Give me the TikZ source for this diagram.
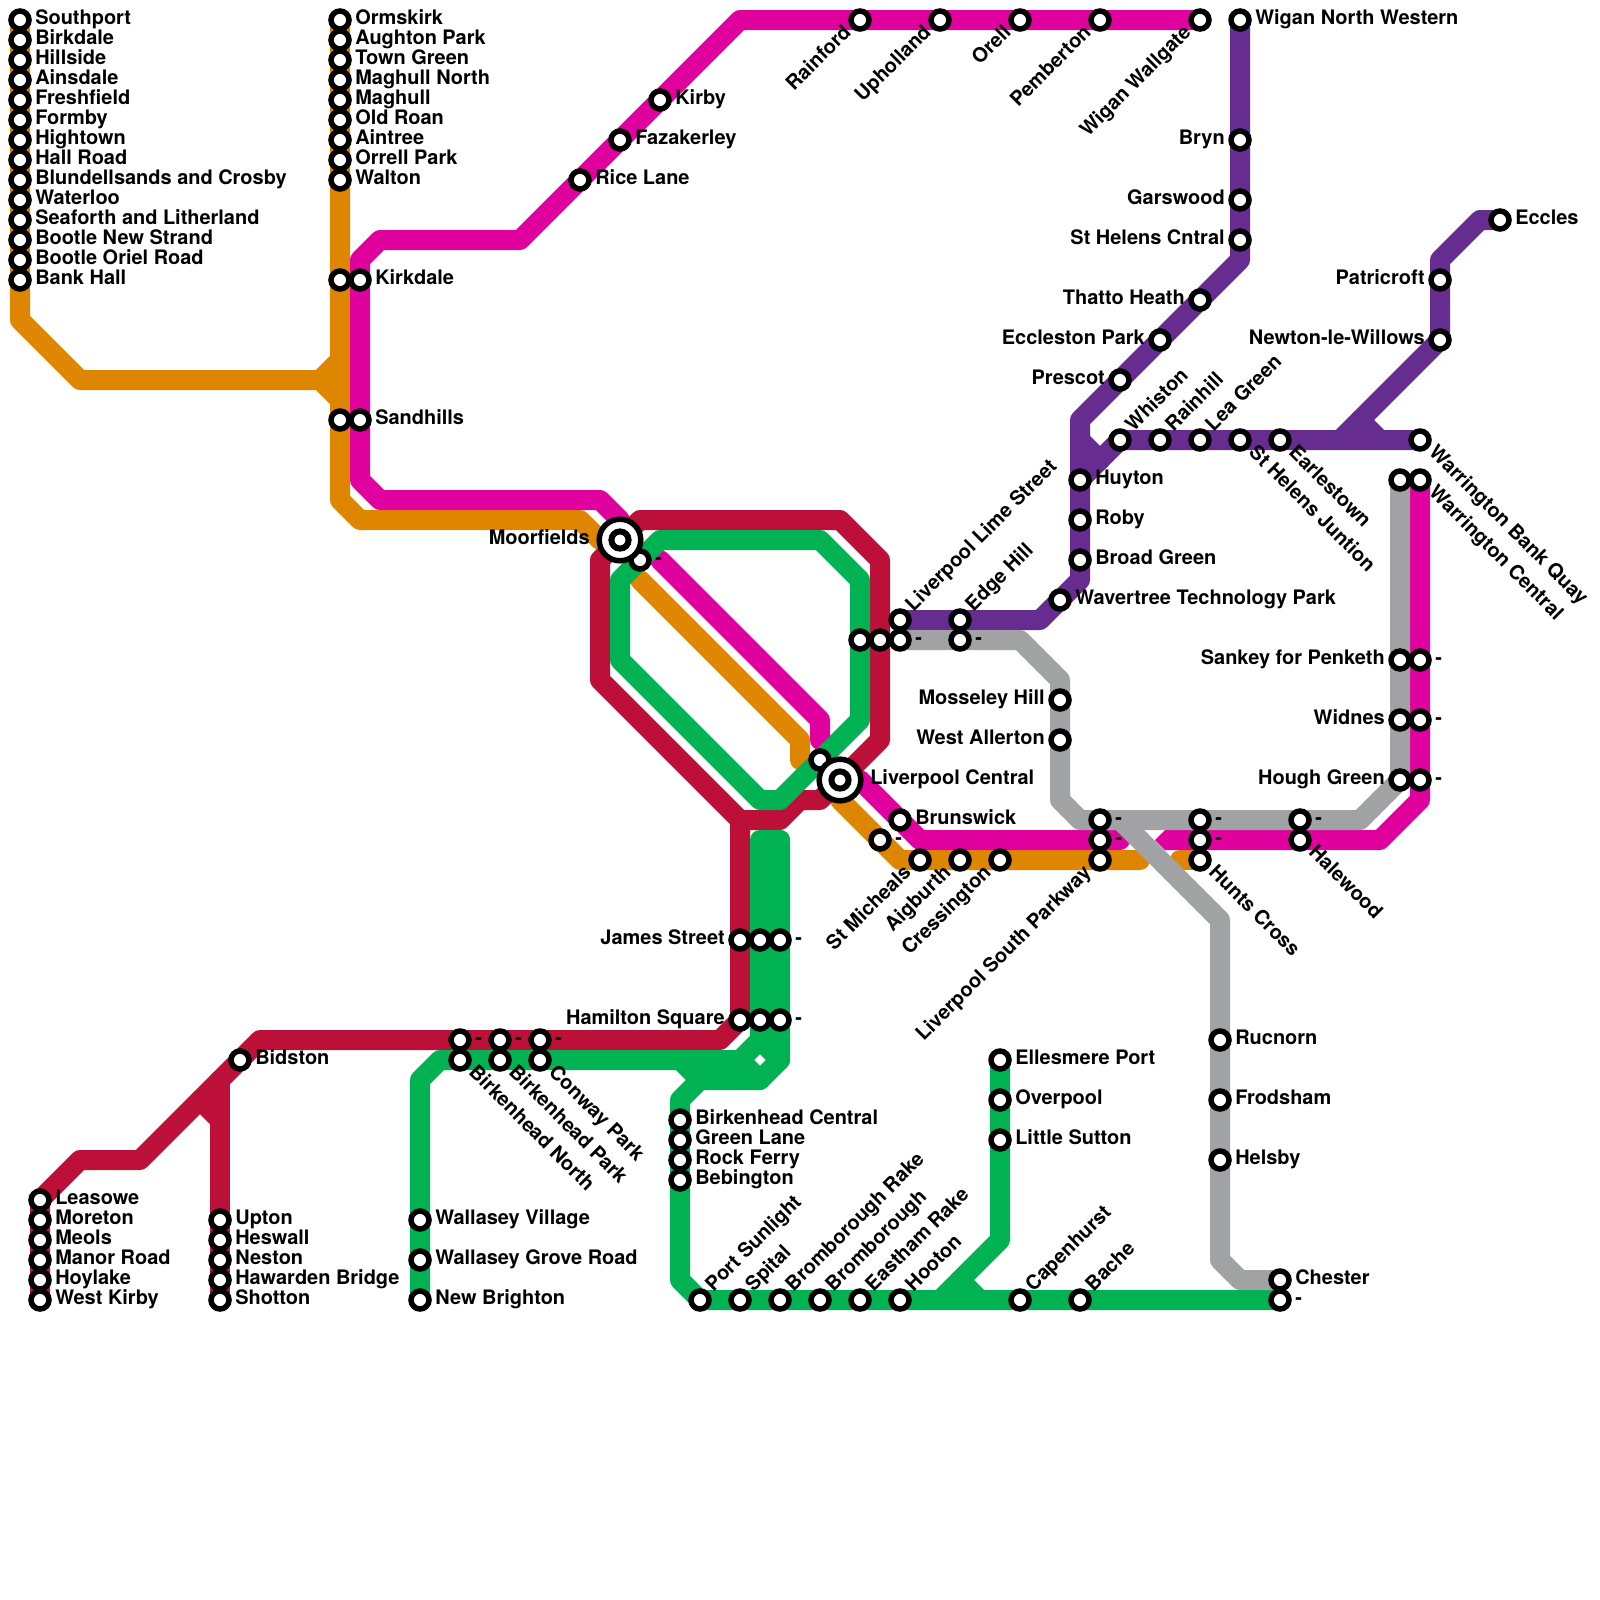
\documentclass[tikz,border=0pt]{standalone}
\usepackage{fontspec}
\setmainfont{TeX Gyre Heros}
\usetikzlibrary{backgrounds}

\definecolor{railorange}{HTML}{DF8600}
\definecolor{railpink}{HTML}{E0009D}
\definecolor{railred}{HTML}{BD1038}
\definecolor{railgreen}{HTML}{00B251}
\definecolor{railpurple}{HTML}{662C90}
\definecolor{railgrey}{HTML}{A1A2A3}

\tikzset{
  track/.style={line width=5mm,line cap=round,line join=round},
  stop/.style={circle,draw=black,fill=white,line width=1.375mm,minimum size=4.5mm,inner sep=0pt},
  hubring/.style={stop,minimum size=10.4mm},
  hubcore/.style={stop,line width=1.5mm,minimum size=4.3mm},
  lab/.style={inner sep=0pt,font=\fontsize{14.2}{16}\selectfont\bfseries},
  E/.style={anchor=base west,xshift=3.75mm,yshift=-1.2mm},
  W/.style={anchor=base east,xshift=-3.75mm,yshift=-1.2mm},
  NE/.style={rotate=45,anchor=base west,xshift=3.75mm,yshift=-1mm},
  SW/.style={rotate=45,anchor=base east,xshift=-3.75mm,yshift=-1mm},
  SE/.style={rotate=-45,anchor=base west,xshift=3.75mm,yshift=-1mm},
  HE/.style={anchor=base west,xshift=7.5mm,yshift=-1.2mm},
  HW/.style={anchor=base east,xshift=-7.5mm,yshift=-1.2mm}
}
\newcommand{\stn}[4][E]{%
  \node[stop] (#2) at (#3) {};
  \node[lab,#1] (#2-l) at (#3) {#4};
}
\newcommand{\bare}[2]{\node[stop] (#1) at (#2) {};}
\newcommand{\hub}[4][HE]{%
  \node[hubring] (#2) at (#3) {};
  \node[hubcore] (#2-c) at (#3) {};
  \node[lab,#1] (#2-l) at (#3) {#4};
}

\begin{document}
\begin{tikzpicture}[x=5mm,y=-5mm]
\useasboundingbox (0,0) rectangle (80,80);

% Southport branch
\stn{southport}{1,1}{Southport}
\stn{birkdale}{1,2}{Birkdale}
\stn{hillside}{1,3}{Hillside}
\stn{ainsdale}{1,4}{Ainsdale}
\stn{freshfield}{1,5}{Freshfield}
\stn{formby}{1,6}{Formby}
\stn{hightown}{1,7}{Hightown}
\stn{hallroad}{1,8}{Hall Road}
\stn{blundellsands}{1,9}{Blundellsands and Crosby}
\stn{waterloo}{1,10}{Waterloo}
\stn{seaforth}{1,11}{Seaforth and Litherland}
\stn{newstrand}{1,12}{Bootle New Strand}
\stn{orielroad}{1,13}{Bootle Oriel Road}
\stn{bankhall}{1,14}{Bank Hall}

% Ormskirk branch
\stn{ormskirk}{17,1}{Ormskirk}
\stn{aughton}{17,2}{Aughton Park}
\stn{towngreen}{17,3}{Town Green}
\stn{maghullnorth}{17,4}{Maghull North}
\stn{maghull}{17,5}{Maghull}
\stn{oldroan}{17,6}{Old Roan}
\stn{aintree}{17,7}{Aintree}
\stn{orrellpark}{17,8}{Orrell Park}
\stn{walton}{17,9}{Walton}
\bare{kirkdaleb}{17,14}
\bare{sandhillsb}{17,21}

% Kirkby and Wigan line
\stn{kirkdale}{18,14}{Kirkdale}
\stn{sandhills}{18,21}{Sandhills}
\stn{ricelane}{29,9}{Rice Lane}
\stn{fazakerley}{31,7}{Fazakerley}
\stn{kirby}{33,5}{Kirby}
\stn[SW]{rainford}{43,1}{Rainford}
\stn[SW]{upholland}{47,1}{Upholland}
\stn[SW]{orell}{51,1}{Orell}
\stn[SW]{pemberton}{55,1}{Pemberton}
\stn[SW]{wallgate}{60,1}{Wigan Wallgate}

% city loop
\stn{moorfieldsb}{32,28}{-}
\bare{centralb}{41,38}
\stn[W]{james}{37,47}{James Street}
\bare{jamesb}{38,47}
\stn{jamesc}{39,47}{-}
\stn[W]{hamilton}{37,51}{Hamilton Square}
\bare{hamiltonb}{38,51}
\stn{hamiltonc}{39,51}{-}
\bare{limea}{43,32}
\bare{limeb}{44,32}
\stn{limec}{45,32}{-}
\stn[NE]{lime}{45,31}{Liverpool Lime Street}
\stn[NE]{edgehill}{48,31}{Edge Hill}
\stn{edgehillb}{48,32}{-}
\hub[HW]{moorfields}{31,27}{Moorfields}
\hub{central}{42,39}{Liverpool Central}

% south of the centre
\stn{brunswick}{45,41}{Brunswick}
\stn{micheals}{44,42}{-}
\stn[SW]{michealsb}{46,43}{St Micheals}
\stn[SW]{aigburth}{48,43}{Aigburth}
\stn[SW]{cressington}{50,43}{Cressington}
\stn{parkwaya}{55,41}{-}
\stn{parkwayb}{55,42}{-}
\stn[SW]{parkway}{55,43}{Liverpool South Parkway}
\stn{huntsa}{60,41}{-}
\stn{huntsb}{60,42}{-}
\stn[SE]{hunts}{60,43}{Hunts Cross}
\stn{halewooda}{65,41}{-}
\stn[SE]{halewood}{65,42}{Halewood}
\stn[W]{mosseley}{53,35}{Mosseley Hill}
\stn[W]{allerton}{53,37}{West Allerton}

% Warrington side
\bare{warringtonb}{70,24}
\stn[SE]{warrington}{71,24}{Warrington Central}
\stn[W]{sankey}{70,33}{Sankey for Penketh}
\stn{sankeyb}{71,33}{-}
\stn[W]{widnes}{70,36}{Widnes}
\stn{widnesb}{71,36}{-}
\stn[W]{hough}{70,39}{Hough Green}
\stn{houghb}{71,39}{-}

% purple lines
\stn{wigannw}{62,1}{Wigan North Western}
\stn[W]{bryn}{62,7}{Bryn}
\stn[W]{garswood}{62,10}{Garswood}
\stn[W]{sthelens}{62,12}{St Helens Cntral}
\stn[W]{thatto}{60,15}{Thatto Heath}
\stn[W]{eccleston}{58,17}{Eccleston Park}
\stn[W]{prescot}{56,19}{Prescot}
\stn{huyton}{54,24}{Huyton}
\stn{roby}{54,26}{Roby}
\stn{broadgreen}{54,28}{Broad Green}
\stn{wavertree}{53,30}{Wavertree Technology Park}
\stn[NE]{whiston}{56,22}{Whiston}
\stn[NE]{rainhill}{58,22}{Rainhill}
\stn[NE]{leagreen}{60,22}{Lea Green}
\stn[SE]{junction}{62,22}{St Helens Juntion}
\stn[SE]{earlestown}{64,22}{Earlestown}
\stn[SE]{bankquay}{71,22}{Warrington Bank Quay}
\stn{eccles}{75,11}{Eccles}
\stn[W]{patricroft}{72,14}{Patricroft}
\stn[W]{newton}{72,17}{Newton-le-Willows}

% Chester line
\stn{rucnorn}{61,52}{Rucnorn}
\stn{frodsham}{61,55}{Frodsham}
\stn{helsby}{61,58}{Helsby}
\stn{chester}{64,64}{Chester}
\stn{chesterb}{64,65}{-}

% Wirral
\stn{leasowe}{2,60}{Leasowe}
\stn{moreton}{2,61}{Moreton}
\stn{meols}{2,62}{Meols}
\stn{manorroad}{2,63}{Manor Road}
\stn{hoylake}{2,64}{Hoylake}
\stn{westkirby}{2,65}{West Kirby}
\stn{upton}{11,61}{Upton}
\stn{heswall}{11,62}{Heswall}
\stn{neston}{11,63}{Neston}
\stn{hawarden}{11,64}{Hawarden Bridge}
\stn{shotton}{11,65}{Shotton}
\stn{bidston}{12,53}{Bidston}
\stn{northb}{23,52}{-}
\stn{parkb}{25,52}{-}
\stn{conwayb}{27,52}{-}
\stn[SE]{north}{23,53}{Birkenhead North}
\stn[SE]{park}{25,53}{Birkenhead Park}
\stn[SE]{conway}{27,53}{Conway Park}
\stn{village}{21,61}{Wallasey Village}
\stn{groveroad}{21,63}{Wallasey Grove Road}
\stn{brighton}{21,65}{New Brighton}
\stn{central34}{34,56}{Birkenhead Central}
\stn{greenlane}{34,57}{Green Lane}
\stn{rockferry}{34,58}{Rock Ferry}
\stn{bebington}{34,59}{Bebington}
\stn[NE]{sunlight}{35,65}{Port Sunlight}
\stn[NE]{spital}{37,65}{Spital}
\stn[NE]{brake}{39,65}{Bromborough Rake}
\stn[NE]{bromborough}{41,65}{Bromborough}
\stn[NE]{eastham}{43,65}{Eastham Rake}
\stn[NE]{hooton}{45,65}{Hooton}
\stn[NE]{capenhurst}{51,65}{Capenhurst}
\stn[NE]{bache}{54,65}{Bache}
\stn{ellesmere}{50,53}{Ellesmere Port}
\stn{overpool}{50,55}{Overpool}
\stn{sutton}{50,57}{Little Sutton}

\begin{pgfonlayer}{background}
\fill[white] (0,0) rectangle (80,80);

% orange
\draw[track,railorange] (southport.center) -- (1,16) -- (4,19) -- (16,19) -- (17,20);
\draw[track,railorange] (16,19) -- (17,18);
\draw[track,railorange] (ormskirk.center) -- (17,25) -- (18,26) -- (29,26) -- (30,27);
\draw[track,railorange] (32,29) -- (40,37) -- (40,38);
\draw[track,railorange] (42,40) -- (45,43) -- (57,43);
\draw[track,railorange] (59,43) -- (hunts.center);

% pink
\draw[track,railpink] (wallgate.center) -- (37,1) -- (26,12) -- (19,12) -- (18,13) -- (18,24) -- (19,25) -- (30,25) -- (31,26);
\draw[track,railpink] (33,28) -- (41,36) -- (41,37);
\draw[track,railpink] (43,39) -- (46,42) -- (56,42);
\draw[track,railpink] (warrington.center) -- (71,40) -- (69,42) -- (59,42);
\fill[railpink] (57.75,42) -- (58.25,41.5) -- (59,41.5) -- (59,42.5) -- (58.25,42.5) -- cycle;

% red
\draw[track,railred] (westkirby.center) -- (2,60) -- (4,58) -- (7,58) -- (13,52) -- (36,52) -- (37,51) -- (37,41) -- (39,41) -- (40,40) -- (41,40) -- (42,39) -- (44,37) -- (44,28) -- (42,26) -- (32,26) -- (30,28) -- (30,34) -- (37,41);
\draw[track,railred] (shotton.center) -- (11,54);
\draw[track,railred] (10,55) -- (11,56);

% green
\draw[track,railgreen] (33,27) -- (41,27) -- (43,29) -- (43,36) -- (39,40) -- (38,40) -- (31,33) -- (31,29) -- cycle;
\draw[track,railgreen] (39,42) -- (38,42) -- (38,52) -- (37,53) -- (22,53) -- (21,54) -- (brighton.center);
\draw[track,railgreen] (39,42) -- (39,53) -- (38,54) -- (35,54) -- (34,55) -- (34,64) -- (35,65) -- (chesterb.center);
\draw[track,railgreen] (37,53) -- (38,54);
\draw[track,railgreen] (38,52) -- (39,53);
\draw[track,railgreen] (34,53) -- (35,54);
\draw[track,railgreen] (ellesmere.center) -- (50,62) -- (47,65);
\draw[track,railgreen] (48,64) -- (49,65);

% purple
\draw[track,railpurple] (lime.center) -- (52,31) -- (54,29) -- (54,21) -- (62,13) -- (wigannw.center);
\draw[track,railpurple] (54,24) -- (56,22) -- (bankquay.center);
\draw[track,railpurple] (54,22) -- (55,23);
\draw[track,railpurple] (eccles.center) -- (74,11) -- (72,13) -- (72,17) -- (67,22);
\draw[track,railpurple] (68,21) -- (69,22);

% grey
\draw[track,railgrey] (limec.center) -- (51,32) -- (53,34) -- (53,40) -- (54,41) -- (68,41) -- (70,39) -- (warringtonb.center);
\draw[track,railgrey] (56,41) -- (61,46) -- (61,63) -- (62,64) -- (chester.center);
\end{pgfonlayer}
\end{tikzpicture}
\end{document}
